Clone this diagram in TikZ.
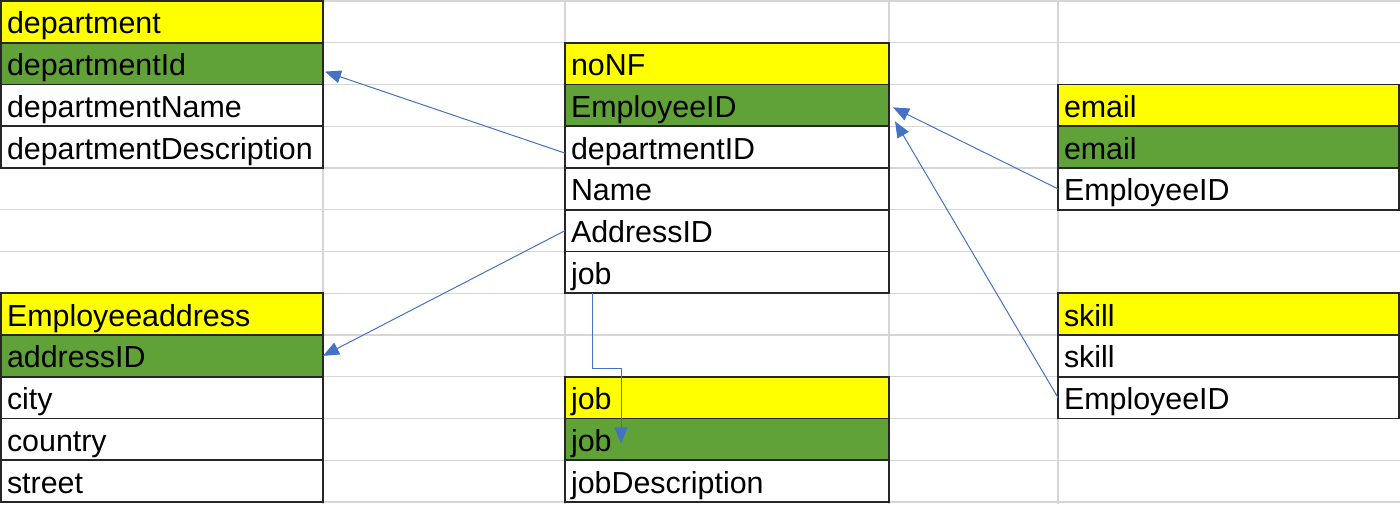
\documentclass[tikz,border=0pt]{standalone}
\usepackage{fontspec}
\setmainfont{Liberation Sans}
\usepackage{tikz}
\usetikzlibrary{arrows.meta, positioning}

\definecolor{hdryellow}{RGB}{255,255,0}
\definecolor{keygreen}{RGB}{96,161,56}
\definecolor{linkblue}{RGB}{68,114,196}
\definecolor{gridgray}{RGB}{214,214,214}

\begin{document}
\begin{tikzpicture}[x=0.5pt, y=-0.5pt,
            cell/.style   ={rectangle, draw=black!85, line width=0.8pt, outer sep=0pt,
                            inner xsep=3pt, inner ysep=0pt, align=left,
                            text height=16.375pt, text depth=4.5pt, minimum height=20.875pt,
                            font=\fontsize{15.2}{16}\selectfont},
            hdr/.style    ={cell, fill=hdryellow},
            pkey/.style   ={cell, fill=keygreen},
            fld/.style    ={cell, fill=white},
            narrowt/.style={text width=155pt},
            midt/.style   ={text width=156pt},
            widet/.style  ={text width=164.5pt},
            gridln/.style ={gridgray, line width=0.6pt},
            arr/.style    ={-{Triangle[length=8pt, width=6.5pt]}, linkblue, line width=0.5pt}
        ]
            % sheet background and grid
            \fill[white] (0,0) rectangle (1400,504);
            \useasboundingbox (0,0) rectangle (1400,504);
            \foreach \r in {0,...,12}
                \draw[gridln] (0,{1+41.75*\r}) -- (1400,{1+41.75*\r});
            \foreach \c in {323,565,889,1058}
                \draw[gridln] (\c,0) -- (\c,504);

            % department
            \node[hdr,  narrowt, anchor=north west] (dhead) at (1,1) {department};
            \node[pkey, narrowt, below=0pt of dhead] (dkey)  {departmentId};
            \node[fld,  narrowt, below=0pt of dkey]  (dname) {departmentName};
            \node[fld,  narrowt, below=0pt of dname] (ddesc) {departmentDescription};

            % noNF
            \node[hdr,  midt, anchor=north west] (nhead) at (565,42.75) {noNF};
            \node[pkey, midt, below=0pt of nhead] (nemp)  {EmployeeID};
            \node[fld,  midt, below=0pt of nemp]  (ndept) {departmentID};
            \node[fld,  midt, below=0pt of ndept] (nname) {Name};
            \node[fld,  midt, below=0pt of nname] (naddr) {AddressID};
            \node[fld,  midt, below=0pt of naddr] (njob)  {job};

            % email
            \node[hdr,  widet, anchor=north west] (ehead) at (1058,84.5) {email};
            \node[pkey, widet, below=0pt of ehead] (ekey) {email};
            \node[fld,  widet, below=0pt of ekey]  (eemp) {EmployeeID};

            % Employeeaddress
            \node[hdr,  narrowt, anchor=north west] (ahead) at (1,293.25) {Employeeaddress};
            \node[pkey, narrowt, below=0pt of ahead]    (akey)     {addressID};
            \node[fld,  narrowt, below=0pt of akey]     (acity)    {city};
            \node[fld,  narrowt, below=0pt of acity]    (acountry) {country};
            \node[fld,  narrowt, below=0pt of acountry] (astreet)  {street};

            % job
            \node[hdr,  midt, anchor=north west] (jhead) at (565,376.75) {job};
            \node[pkey, midt, below=0pt of jhead] (jkey)  {job};
            \node[fld,  midt, below=0pt of jkey]  (jdesc) {jobDescription};

            % skill
            \node[hdr,  widet, anchor=north west] (shead) at (1058,293.25) {skill};
            \node[fld,  widet, below=0pt of shead]  (sskill) {skill};
            \node[fld,  widet, below=0pt of sskill] (semp)   {EmployeeID};

            % links
            \draw[arr] ([yshift=-3pt]ndept.west) -- ([xshift=1pt, yshift=-4pt]dkey.east);
            \draw[arr] (naddr.west) -- (akey.east);
            \draw[arr] ([xshift=13.5pt]njob.south west) -- ++(0,75) -| ([xshift=28pt, yshift=-2pt]jkey.west);
            \draw[arr] (eemp.west) -- ([xshift=2pt, yshift=-1pt]nemp.east);
            \draw[arr] (semp.west) -- ([xshift=3pt, yshift=-8pt]nemp.east);
        \end{tikzpicture}
\end{document}
